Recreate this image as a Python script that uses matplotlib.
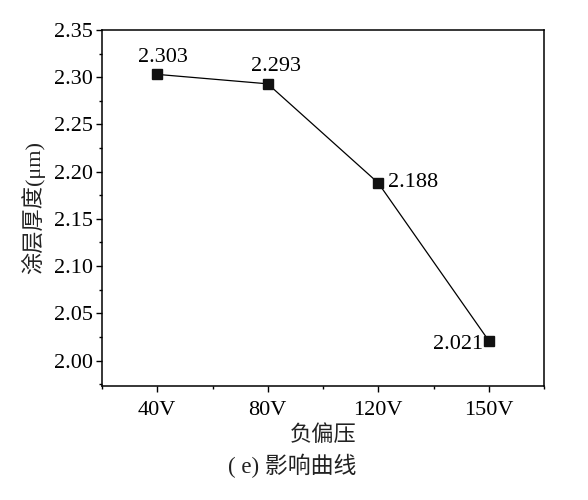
import matplotlib
matplotlib.use("Agg")
import matplotlib.pyplot as plt
from matplotlib.ticker import MultipleLocator, FixedLocator

plt.rcParams["font.family"] = ["Liberation Serif", "Noto Sans CJK SC"]

bias = ["40V", "80V", "120V", "150V"]
thickness = [2.303, 2.293, 2.188, 2.021]
# label offsets in pixels (dx, dy, ha)
offsets = [(6, 17, "center"), (8, 17, "center"), (10, 0, "left"), (-6, -4, "right")]

fig = plt.figure(figsize=(5.88, 5.0), dpi=100)
ax = fig.add_axes([102 / 588, 1 - 386 / 500, (544 - 102) / 588, (386 - 30) / 500])

x = list(range(len(bias)))
ax.plot(x, thickness, color="black", lw=0.9, marker="s", ms=6.5,
        mfc="#111111", mec="#111111")

for xi, v, (dx, dy, ha) in zip(x, thickness, offsets):
    ax.annotate(f"{v:.3f}", (xi, v), xytext=(dx, dy), textcoords="offset pixels",
                ha=ha, va="center", fontsize=16)

ax.set_xlim(-0.5, 3.5)
ax.set_ylim(1.973, 2.35)
ax.set_xticks(x)
ax.set_xticklabels(bias)
ax.xaxis.set_minor_locator(FixedLocator([-0.5, 0.5, 1.5, 2.5, 3.5]))
ax.yaxis.set_major_locator(MultipleLocator(0.05))
ax.yaxis.set_minor_locator(MultipleLocator(0.025))
ax.yaxis.set_major_formatter(plt.FormatStrFormatter("%.2f"))

ax.tick_params(which="major", direction="out", length=4.5, width=1.0, labelsize=16)
ax.tick_params(which="minor", direction="out", length=2.5, width=1.0)
ax.tick_params(axis="x", pad=6)
ax.tick_params(axis="y", pad=2)
for s in ax.spines.values():
    s.set_linewidth(1.1)

ax.set_xlabel("负偏压", fontsize=16, labelpad=4, color="#222222")
ax.set_ylabel("涂层厚度(μm)", fontsize=16, labelpad=6, color="#222222")

fig.text(292 / 588, 1 - 466 / 500, "( e) 影响曲线", ha="center", va="center",
         fontsize=16.5, color="#222222")

fig.savefig("out.png", dpi=100)
